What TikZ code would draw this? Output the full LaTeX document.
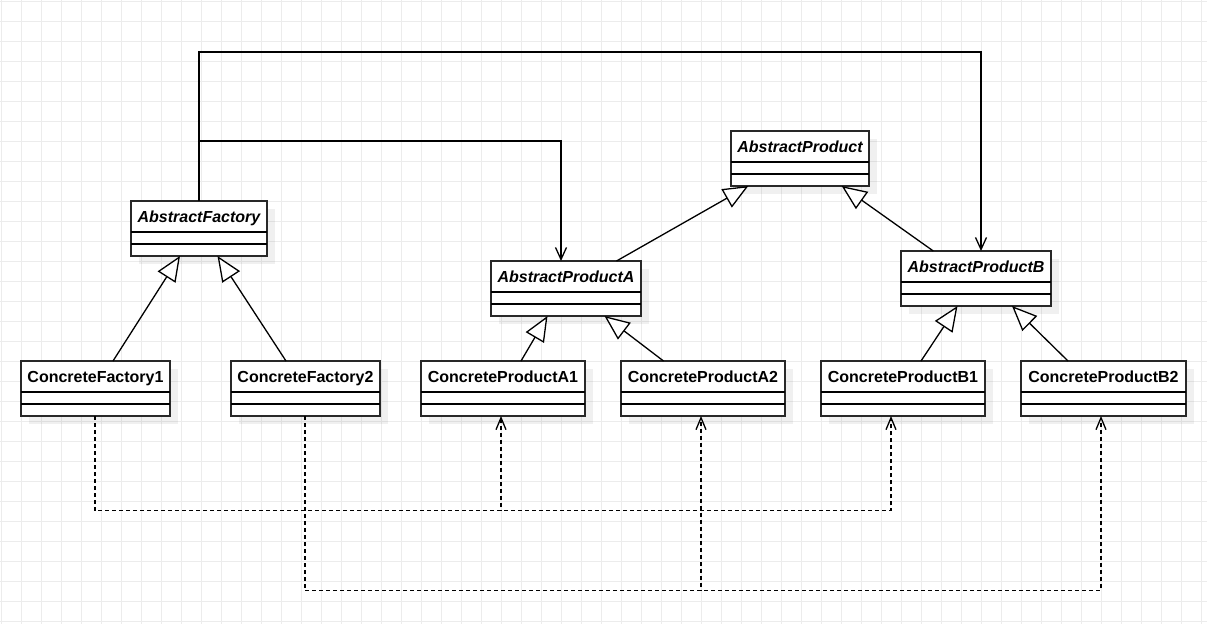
\documentclass[tikz,border=0pt]{standalone}
\usepackage{fontspec}
\setmainfont{Liberation Sans}
\usetikzlibrary{arrows.meta,shadows,calc}
\definecolor{gridc}{RGB}{236,236,236}
\definecolor{boxc}{RGB}{40,40,40}
\tikzset{
  umlbox/.style={draw=boxc, line width=1.3pt, fill=white, minimum height=55pt,
    inner sep=0pt, outer sep=0pt, anchor=north west,
    drop shadow={shadow xshift=8pt, shadow yshift=-8pt, fill=black, opacity=0.06}},
  umltext/.style={font=\fontsize{16}{19}\selectfont\bfseries, inner sep=0pt, anchor=base},
  divline/.style={draw=black, line width=1.3pt},
  inh/.style={line width=1.3pt, -{Triangle[length=25pt, width=21pt, fill=white]}},
  assoc/.style={line width=1.3pt, -{Straight Barb[length=12pt, width=11pt]}},
  dep/.style={line width=1.3pt, dash pattern=on 4pt off 3pt, -{Straight Barb[length=12pt, width=10pt]}},
  gridline/.style={draw=gridc, line width=1pt}
}
% #1 name, #2 x, #3 y, #4 width, #5 text, #6 font extra
\newcommand\umlcls[6]{%
  \node[umlbox, minimum width=#4pt] (#1) at (#2,#3) {};
  \node[umltext] (#1t) at ($(#1.north)+(0,21.3)$) {#6#5};
  \draw[divline] ([yshift=-31pt]#1.north west) -- ([yshift=-31pt]#1.north east);
  \draw[divline] ([yshift=-43pt]#1.north west) -- ([yshift=-43pt]#1.north east);
}
\begin{document}
\begin{tikzpicture}[x=1pt, y=-1pt]
  \useasboundingbox (0,0) rectangle (1207,624);
  \fill[white] (0,0) rectangle (1207,624);
  \foreach \i in {0,...,60} {\draw[gridline] ({1.7+20*\i},0) -- ({1.7+20*\i},624);}
  \foreach \i in {0,...,31} {\draw[gridline] (0,{1.7+20*\i}) -- (1207,{1.7+20*\i});}

  \umlcls{af}{131}{201}{136}{AbstractFactory}{\itshape}
  \umlcls{ap}{731}{131}{138}{AbstractProduct}{\itshape}
  \umlcls{apa}{491}{261}{150}{AbstractProductA}{\itshape}
  \umlcls{apb}{901}{251}{150}{AbstractProductB}{\itshape}
  \umlcls{cfa}{21}{361}{149}{ConcreteFactory1}{}
  \umlcls{cfb}{231}{361}{149}{ConcreteFactory2}{}
  \umlcls{cpaa}{421}{361}{164}{ConcreteProductA1}{}
  \umlcls{cpab}{621}{361}{164}{ConcreteProductA2}{}
  \umlcls{cpba}{821}{361}{164}{ConcreteProductB1}{}
  \umlcls{cpbb}{1021}{361}{165}{ConcreteProductB2}{}

  % associations
  \draw[assoc] ([xshift=68pt]af.north west) -- ++(0,-149) -| ([xshift=80pt]apb.north west);
  \draw[assoc] ([xshift=68pt]af.north west) -- ++(0,-60) -| ([xshift=70pt]apa.north west);

  % generalisations
  \draw[inh] ([xshift=92pt]cfa.north west) -- ([xshift=49pt]af.south west);
  \draw[inh] ([xshift=55pt]cfb.north west) -- ([xshift=86.5pt]af.south west);
  \draw[inh] ([xshift=100pt]cpaa.north west) -- ([xshift=56.5pt]apa.south west);
  \draw[inh] ([xshift=42.5pt]cpab.north west) -- ([xshift=113.5pt]apa.south west);
  \draw[inh] ([xshift=100pt]cpba.north west) -- ([xshift=56.5pt]apb.south west);
  \draw[inh] ([xshift=47pt]cpbb.north west) -- ([xshift=111pt]apb.south west);
  \draw[inh] ([xshift=125.5pt]apa.north west) -- ([xshift=17.3pt]ap.south west);
  \draw[inh] ([xshift=32.3pt]apb.north west) -- ([xshift=110.7pt]ap.south west);

  % dependencies
  \draw[dep] ([xshift=74pt]cfa.south west) -- ++(0,94.7) -| ([xshift=80pt]cpaa.south west);
  \draw[dep] ([xshift=74pt]cfa.south west) -- ++(0,94.7) -| ([xshift=70pt]cpba.south west);
  \draw[dep] ([xshift=74pt]cfb.south west) -- ++(0,174.7) -| ([xshift=80pt]cpab.south west);
  \draw[dep] ([xshift=74pt]cfb.south west) -- ++(0,174.7) -| ([xshift=80pt]cpbb.south west);
\end{tikzpicture}
\end{document}
